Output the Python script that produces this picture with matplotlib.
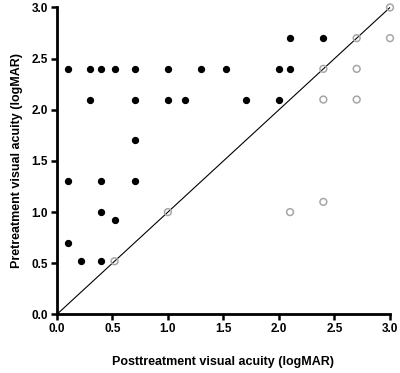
import matplotlib.pyplot as plt

# pacientes con mejoria (puntos negros)
post_improved = [0.1, 0.3, 0.4, 0.52, 0.7, 1.0, 1.3, 1.52, 2.0, 2.1,
                 2.1, 2.4,
                 0.3, 0.7, 1.0, 1.15, 1.7, 2.0,
                 0.7,
                 0.1, 0.4, 0.7,
                 0.4, 0.52, 0.1, 0.22, 0.4]
pre_improved = [2.4, 2.4, 2.4, 2.4, 2.4, 2.4, 2.4, 2.4, 2.4, 2.4,
                2.7, 2.7,
                2.1, 2.1, 2.1, 2.1, 2.1, 2.1,
                1.7,
                1.3, 1.3, 1.3,
                1.0, 0.92, 0.7, 0.52, 0.52]

# pacientes sin mejoria (circulos grises)
post_other = [3.0, 2.7, 3.0, 2.4, 2.7, 2.4, 2.7, 2.1, 2.4, 1.0, 0.52]
pre_other = [3.0, 2.7, 2.7, 2.4, 2.4, 2.1, 2.1, 1.0, 1.1, 1.0, 0.52]

ticks = [0.0, 0.5, 1.0, 1.5, 2.0, 2.5, 3.0]

plt.rcParams['font.family'] = ['Liberation Sans', 'DejaVu Sans']

fig = plt.figure(figsize=(4.0, 3.73), dpi=100)
ax = fig.add_axes([0.142, 0.157, 0.833, 0.823])

ax.plot([0, 3], [0, 3], color='black', linewidth=0.8, zorder=1)
ax.scatter(post_improved, pre_improved, s=18, color='black', zorder=3, clip_on=False)
ax.scatter(post_other, pre_other, s=24, facecolors='none', edgecolors='#a6a6a6',
           linewidths=1.1, zorder=3, clip_on=False)

ax.set_xlim(0, 3)
ax.set_ylim(0, 3)
ax.set_xticks(ticks)
ax.set_yticks(ticks)
ax.set_xticklabels([f'{t:.1f}' for t in ticks], fontweight='bold')
ax.set_yticklabels([f'{t:.1f}' for t in ticks], fontweight='bold')
ax.tick_params(labelsize=8.5, width=1.8, length=4.5, direction='out', pad=2)

for side in ['top', 'right']:
    ax.spines[side].set_visible(False)
for side in ['left', 'bottom']:
    ax.spines[side].set_linewidth(2.0)

ax.set_xlabel('Posttreatment visual acuity (logMAR)', fontsize=9, fontweight='bold', labelpad=15)
ax.set_ylabel('Pretreatment visual acuity (logMAR)', fontsize=9, fontweight='bold', labelpad=6)

plt.savefig('out.png', dpi=100)
